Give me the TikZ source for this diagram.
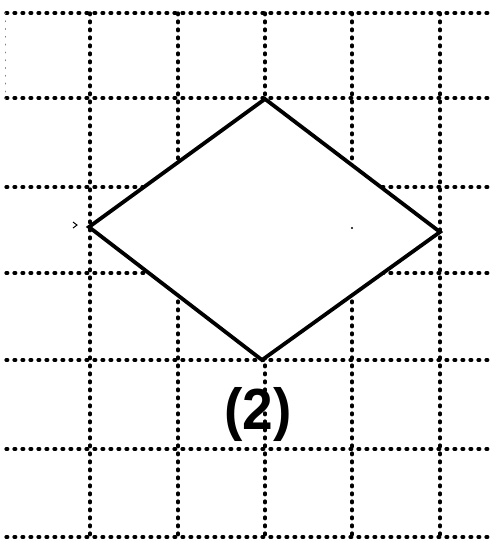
\documentclass[tikz,border=0pt]{standalone}
\usepackage{fontspec}
\setmainfont{Liberation Sans}
\begin{document}
\begin{tikzpicture}[x=1pt,y=-1pt,
  gridline/.style={line width=3.2pt, line cap=round, dash pattern=on 1.8pt off 6.2pt, black},
  faintline/.style={line width=1pt, line cap=round, dash pattern=on 0.8pt off 7pt, black!50},
  diamondline/.style={line width=3.8pt, line join=miter, black, fill=white},
  lbl/.style={font=\bfseries\fontsize{58}{58}\selectfont, inner sep=0pt}]
\useasboundingbox[fill=white] (0,0) rectangle (490,547);
% horizontal grid lines
\foreach \y in {13,98,187,273,360,449,537}
  \draw[gridline] (6,\y) -- (490,\y);
% vertical grid lines
\foreach \x in {90,178,265,352,440}
  \draw[gridline] (\x,13) -- (\x,537);
\draw[faintline] (5,13) -- (5,100);
% diamond
\coordinate (T) at (265,99);
\coordinate (L) at (89,227);
\coordinate (R) at (440,232);
\coordinate (B) at (262,360);
\draw[diamondline] (T) -- (R) -- (B) -- (L) -- cycle;
\fill (352,228) circle (1.2);
\draw[line width=1pt] (73,222) -- (77,225) -- (73,228);
% label
\node[lbl] (lab) at (258,414) {\scalebox{0.95}[1]{(2)}};
\end{tikzpicture}
\end{document}
